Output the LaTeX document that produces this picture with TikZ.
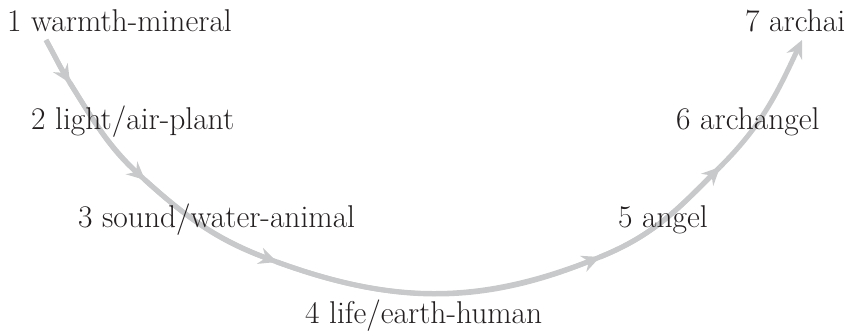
\documentclass[tikz,border=0pt]{standalone}
\usetikzlibrary{arrows.meta}
\definecolor{arcgray}{RGB}{200,201,202}
\definecolor{txt}{RGB}{35,31,32}
\begin{document}
\begin{tikzpicture}[x=1pt,y=1pt,
  lbl/.style={inner sep=0pt,anchor=base west,text=txt,font=\fontsize{31.5}{36}\selectfont},
  line/.style={draw=arcgray,line width=5pt},
  seg/.style={line,-{Stealth[length=18pt,width=17pt,inset=6pt]}}]
\useasboundingbox (0,0) rectangle (849,331);
\coordinate (p0) at (46,291);
\coordinate (p1) at (70,248);
\coordinate (p2) at (145,151);
\coordinate (p3) at (277,69);
\coordinate (p4) at (600,74);
\coordinate (p5) at (720,164);
\coordinate (p6) at (802,291);
\draw[line] (p0) to[out=-61,in=122] (p1) to[out=-58,in=138] (p2)
  to[out=-42,in=160] (p3) to[out=-20,in=202] (p4)
  to[out=22,in=225] (p5);
\draw[seg] (p0) to[out=-61,in=122] (p1);
\draw[seg] (p1) to[out=-58,in=138] (p2);
\draw[seg] (p2) to[out=-42,in=160] (p3);
\draw[seg] (p3) to[out=-20,in=202] (p4);
\draw[seg] (p4) to[out=22,in=225] (p5);
\draw[seg] (p5) to[out=45,in=245] (p6);
\node[lbl] (n1) at (7,299) {1 warmth-mineral};
\node[lbl] (n2) at (31,201) {2 light/air-plant};
\node[lbl] (n3) at (78,103) {3 sound/water-animal};
\node[lbl] (n4) at (305,7) {4 life/earth-human};
\node[lbl] (n5) at (618,103) {5 angel};
\node[lbl] (n6) at (676,201) {6 archangel};
\node[lbl] (n7) at (745,299) {7 archai};
\end{tikzpicture}
\end{document}
